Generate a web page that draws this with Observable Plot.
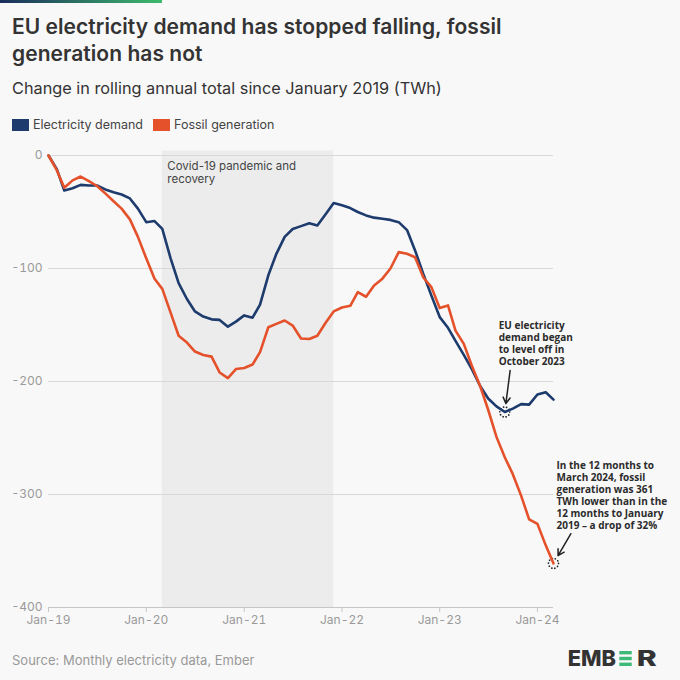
<!DOCTYPE html>
<html>
<head>
<meta charset="utf-8">
<script src="https://cdn.jsdelivr.net/npm/d3@7"></script>
<script src="https://cdn.jsdelivr.net/npm/@observablehq/plot@0.6"></script>
<style>
html,body{margin:0;padding:0;background:#f8f8f8;}
#wrap{position:relative;width:680px;height:680px;overflow:hidden;background:#f8f8f8;font-family:Inter, sans-serif;color:#333;}
#bar{position:absolute;left:0;top:0;width:162px;height:3px;background:linear-gradient(90deg,#1b2d5c,#3dbb6c);}
#title{position:absolute;left:12px;top:13px;font-size:21px;font-weight:600;line-height:27px;color:#333;letter-spacing:0.05px;}
#subtitle{position:absolute;left:12px;top:78px;font-size:16.3px;color:#333;}
#legend{position:absolute;left:12px;top:118px;font-size:12.5px;color:#444;}
.item{position:absolute;top:0;white-space:nowrap;line-height:14px;}
.sw{display:inline-block;width:17px;height:12px;vertical-align:-2px;margin-right:4px;}
#chart{position:absolute;left:0;top:140px;}
#source{position:absolute;left:12px;top:652px;font-size:13px;color:#999;}
#logo{position:absolute;left:560px;top:645px;}
</style>
</head>
<body>
<div id="wrap">
  <div id="bar"></div>
  <div id="title">EU electricity demand has stopped falling, fossil<br>generation has not</div>
  <div id="subtitle">Change in rolling annual total since January 2019 (TWh)</div>
  <div id="legend"></div>
  <div id="chart"></div>
  <div id="source">Source: Monthly electricity data, Ember</div>
  <svg id="logo" width="110" height="30" viewBox="0 0 110 30">
    <text x="7.7" y="21" font-family="Inter, sans-serif" font-weight="800" font-size="22" fill="#333" textLength="48.3" lengthAdjust="spacingAndGlyphs">EMB</text>
    <rect x="59.3" y="6" width="12.4" height="3.4" fill="#3dba78"/>
    <rect x="59.3" y="11.8" width="12.4" height="3.4" fill="#3dba78"/>
    <rect x="59.3" y="17.6" width="12.4" height="3.4" fill="#3dba78"/>
    <text x="76.7" y="21" font-family="Inter, sans-serif" font-weight="800" font-size="22" fill="#333" textLength="20" lengthAdjust="spacingAndGlyphs">R</text>
  </svg>
</div>
<script>
// ---- Data ----
const months = [
  "2019-01","2019-02","2019-03","2019-04","2019-05","2019-06","2019-07","2019-08","2019-09","2019-10","2019-11","2019-12",
  "2020-01","2020-02","2020-03","2020-04","2020-05","2020-06","2020-07","2020-08","2020-09","2020-10","2020-11","2020-12",
  "2021-01","2021-02","2021-03","2021-04","2021-05","2021-06","2021-07","2021-08","2021-09","2021-10","2021-11","2021-12",
  "2022-01","2022-02","2022-03","2022-04","2022-05","2022-06","2022-07","2022-08","2022-09","2022-10","2022-11","2022-12",
  "2023-01","2023-02","2023-03","2023-04","2023-05","2023-06","2023-07","2023-08","2023-09","2023-10","2023-11","2023-12",
  "2024-01","2024-02","2024-03"
];
const electricityDemand = [
  0,-12,-31,-29,-26,-26.5,-26.5,-30,-32.5,-34.5,-38,-47,
  -59,-58,-65,-91,-113,-127,-138,-142.5,-145,-145.5,-151.5,-147,
  -141.5,-143.5,-132,-106,-87,-72,-65,-62.5,-60,-62,-52,-42,
  -44,-46.5,-50,-53,-55,-56,-57,-59,-66,-84,-105,-124,
  -143,-152.5,-164,-176.5,-189,-204,-215,-222,-227,-224,-220,-220.5,
  -211.5,-209.5,-216
];
const fossilGeneration = [
  0,-13,-28.5,-22,-18.6,-22.7,-27,-33.5,-40.5,-47,-56.5,-72,
  -91,-109,-118,-139,-159.5,-165.5,-173.5,-176.5,-178,-192,-197,-189,
  -188,-185,-174,-152,-149,-146,-150.5,-162,-162.4,-159.5,-148,-138,
  -134.5,-133,-121,-125,-115,-109,-100,-85.5,-87,-90,-108,-116.5,
  -135,-132.7,-155,-166.7,-186,-204,-225,-249,-267,-282,-301,-322,
  -326,-345,-361
];
const seriesNames = ["Electricity demand", "Fossil generation"];
const seriesColors = ["#1d3b6d", "#e4512b"];
const xTickMonths = ["2019-01","2020-01","2021-01","2022-01","2023-01","2024-01"];
const xTickLabels = ["Jan-19","Jan-20","Jan-21","Jan-22","Jan-23","Jan-24"];
const yTicks = [0,-100,-200,-300,-400];
const covidPeriod = {start: "2020-03", end: "2021-12", label: "Covid-19 pandemic and\nrecovery"};
const demandNote = {month: "2023-09", label: "EU electricity\ndemand began\nto level off in\nOctober 2023"};
const fossilNote = {month: "2024-03", label: "In the 12 months to\nMarch 2024, fossil\ngeneration was 361\nTWh lower than in the\n12 months to January\n2019 – a drop of 32%"};

// ---- Build ----
const parse = d3.utcParse("%Y-%m");
const demandData = months.map((m,i)=>({date: parse(m), value: electricityDemand[i]}));
const fossilData = months.map((m,i)=>({date: parse(m), value: fossilGeneration[i]}));
const lookup = (data, m) => data.find(d => +d.date === +parse(m));
const demandPt = {...lookup(demandData, demandNote.month), label: demandNote.label};
const fossilPt = {...lookup(fossilData, fossilNote.month), label: fossilNote.label};
const tickDates = xTickMonths.map(parse);
const covid = {x1: parse(covidPeriod.start), x2: parse(covidPeriod.end), label: covidPeriod.label};
const addDays = (d, n) => new Date(+d + n*864e5);

// legend
const legend = document.getElementById("legend");
const legendX = [0, 141];
seriesNames.forEach((n,i)=>{
  const el = document.createElement("div");
  el.className = "item";
  el.style.left = legendX[i] + "px";
  el.innerHTML = `<span class="sw" style="background:${seriesColors[i]}"></span>${n}`;
  legend.appendChild(el);
});

const noteFont = {fontFamily: "'Open Sans', sans-serif", fontWeight: 700, fontSize: 10, fill: "#2b2b2b", lineHeight: 1.2, textAnchor: "start", lineAnchor: "top"};

const chart = Plot.plot({
  width: 680,
  height: 500,
  marginLeft: 48,
  marginRight: 127,
  marginTop: 15,
  marginBottom: 33,
  style: {background: "transparent", fontFamily: "Inter, sans-serif", fontSize: "12px", color: "#999", overflow: "visible"},
  x: {type: "utc", domain: [parse("2019-01"), parse("2024-03")], label: null},
  y: {domain: [-400, 0], label: null},
  marks: [
    Plot.rectY([covid], {x1: "x1", x2: "x2", y1: -400, y2: 4, fill: "#ececec"}),
    Plot.ruleY(yTicks.filter(v => v !== -400), {stroke: "#d8d8d8", strokeWidth: 1.2}),
    Plot.ruleY([-400], {stroke: "#c6c6c6", strokeWidth: 1.2}),
    Plot.axisX({ticks: tickDates, tickFormat: (d) => xTickLabels[tickDates.findIndex(t => +t === +d)], tickSize: 5, tickPadding: 3, stroke: "#c6c6c6", fill: "#9a9a9a", fontSize: 12, label: null}),
    Plot.axisY({ticks: yTicks, tickFormat: d => String(d), tickSize: 0, tickPadding: 6, fill: "#9a9a9a", fontSize: 12, label: null}),
    Plot.text([covid], {x: "x1", y: 0, text: "label", dx: 5, dy: 5, textAnchor: "start", lineAnchor: "top", fontSize: 11.5, lineHeight: 1.15, fill: "#444"}),
    Plot.dot([demandPt, fossilPt], {x: "date", y: "value", r: 5, fill: "none", stroke: "#222", strokeWidth: 1.7, strokeDasharray: "0.1,3", strokeLinecap: "round"}),
    Plot.line(demandData, {x: "date", y: "value", stroke: seriesColors[0], strokeWidth: 2.6}),
    Plot.line(fossilData, {x: "date", y: "value", stroke: seriesColors[1], strokeWidth: 2.6}),
    Plot.arrow([demandPt], {x1: d => addDays(d.date, 20), y1: d => d.value + 36.7, x2: "date", y2: "value", insetEnd: 8.5, headLength: 7, stroke: "#222", strokeWidth: 1.5}),
    Plot.arrow([fossilPt], {x1: d => addDays(d.date, 65), y1: d => d.value + 26.3, x2: "date", y2: "value", insetEnd: 9, headLength: 7, stroke: "#222", strokeWidth: 1.5}),
    Plot.text([demandPt], {x: "date", y: "value", text: "label", dx: -6, dy: -92, ...noteFont}),
    Plot.text([fossilPt], {x: "date", y: "value", text: "label", dx: 3, dy: -103, ...noteFont})
  ]
});
document.getElementById("chart").appendChild(chart);
</script>
</body>
</html>
